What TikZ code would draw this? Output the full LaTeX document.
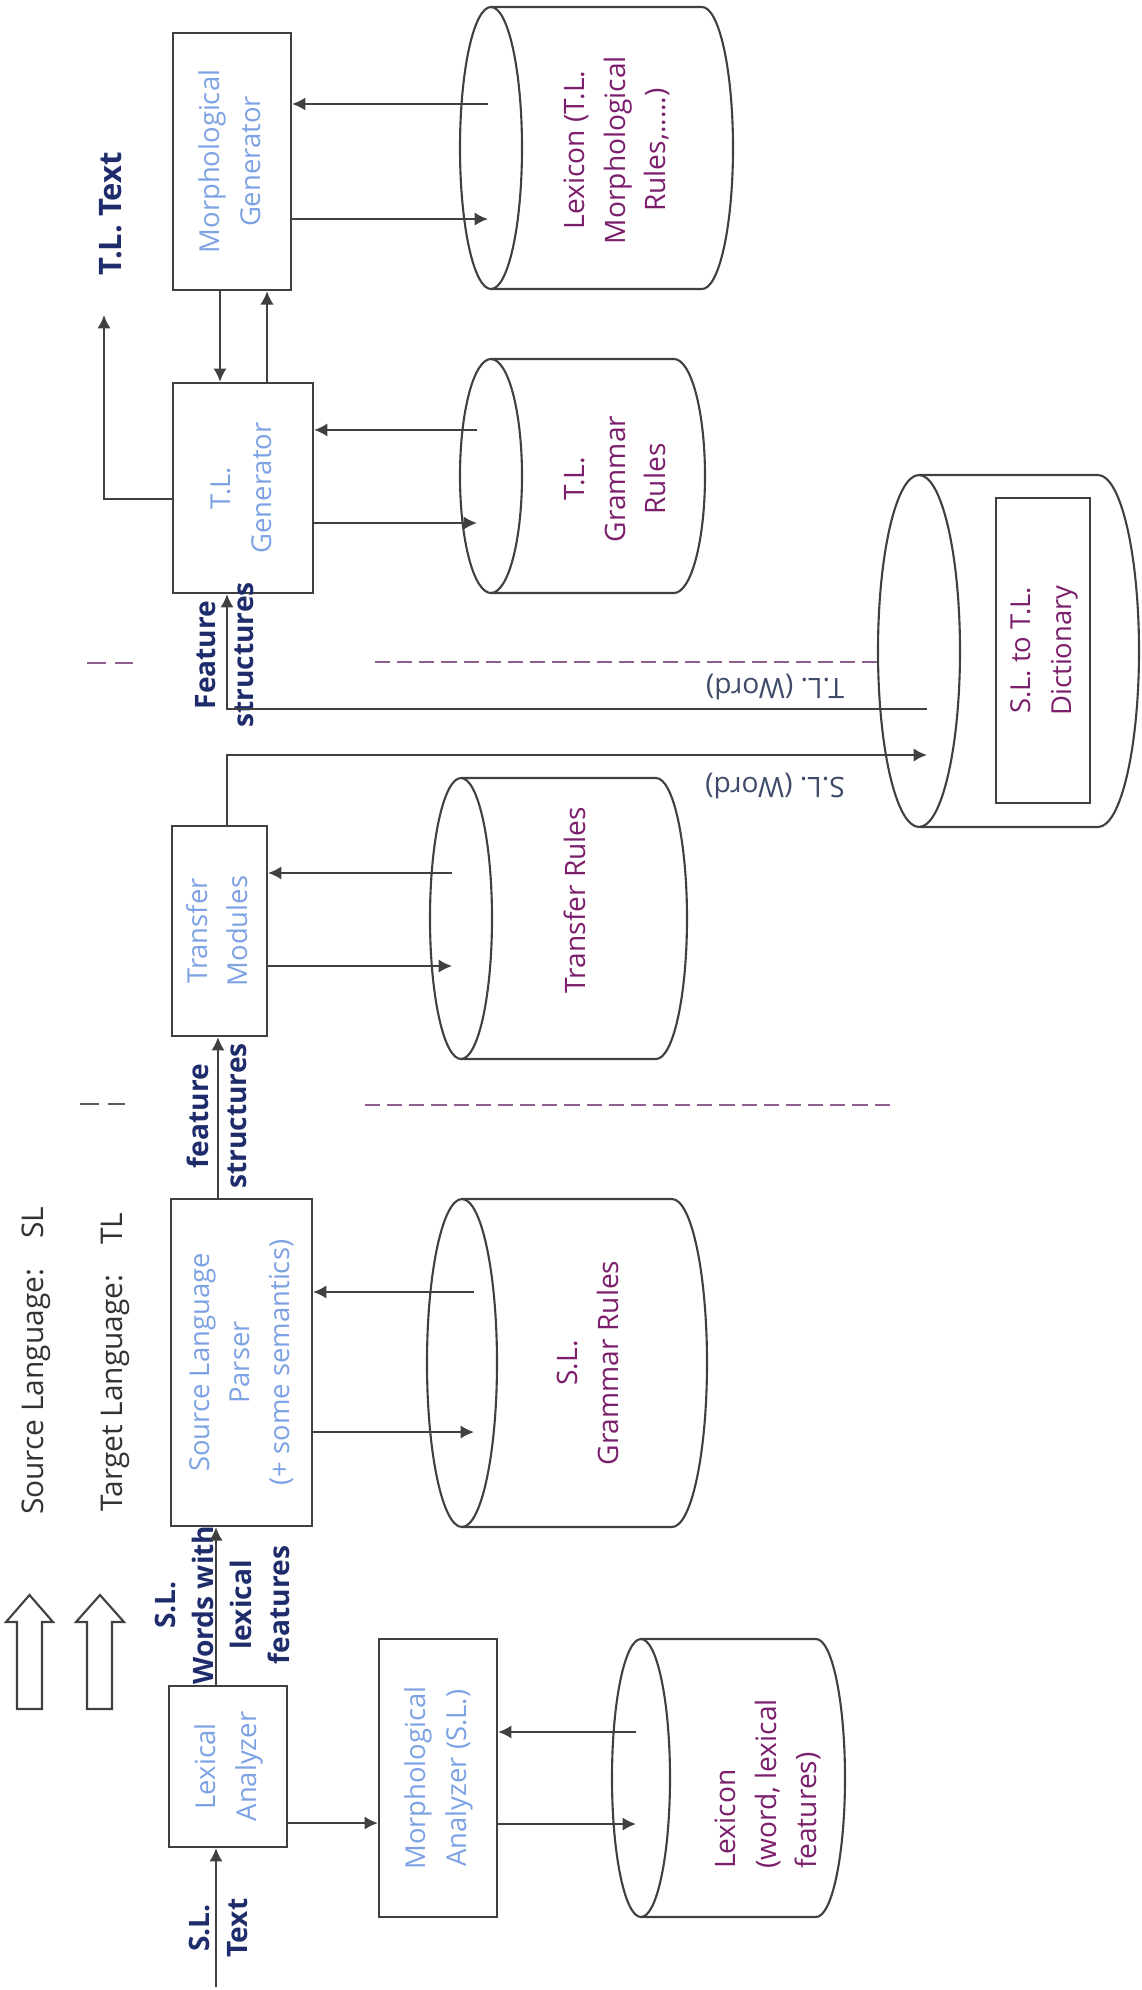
\documentclass[tikz,border=0pt]{standalone}
\usepackage{fontspec}
\setmainfont{Open Sans}
\usepackage{graphicx}
\usetikzlibrary{arrows.meta, positioning}

\definecolor{linegray}{HTML}{404040}
\definecolor{dashgray}{HTML}{5A5A5A}
\definecolor{boxblue}{HTML}{7DA2E3}
\definecolor{lblnavy}{HTML}{1F2C6B}
\definecolor{cylpurple}{HTML}{7B1F6D}
\definecolor{dashpurple}{HTML}{8E5E8E}
\definecolor{wordgray}{HTML}{3E4B68}
\definecolor{keygray}{HTML}{333333}

% text set upright in the page, read from bottom to top
\newcommand{\uptext}[2][c]{\rotatebox{90}{\begin{tabular}{@{}#1@{}}#2\end{tabular}}}
% store outline lying on its side: front face centre, x radius, y radius, length
\newcommand{\drawstore}[4]{%
    \draw[storeline] (#1) ellipse [x radius=#2, y radius=#3];
    \draw[storeline] (#1) ++(0,-#3) -- ++(#4,0) arc [start angle=-90, end angle=90, x radius=#2, y radius=#3] -- ++(-#4,0);
}

\begin{document}
\begin{tikzpicture}[
    x=0.01cm, y=-0.01cm,
    module/.style={rectangle, draw=linegray, line width=0.6pt, inner sep=0pt, text=boxblue, font=\fontsize{7.8}{11.4}\selectfont},
    storetext/.style={inner sep=0pt, text=cylpurple, font=\fontsize{8}{11.4}\selectfont},
    storeline/.style={draw=linegray, line width=0.6pt},
    flowlabel/.style={rotate=90, align=center, text=lblnavy, font=\bfseries\fontsize{8}{10.8}\selectfont},
    wordlabel/.style={rotate=180, text=wordgray, font=\fontsize{8}{10}\selectfont},
    keylabel/.style={rotate=90, text=keygray, font=\fontsize{8.5}{10}\selectfont},
    arrow/.style={-{Latex[length=3.8pt, width=3.8pt]}, draw=linegray, line width=0.6pt},
    hollow/.style={draw=linegray, line width=0.6pt},
    divider/.style={draw=dashpurple, line width=0.6pt, dash pattern=on 4.3pt off 2pt},
    shortdash/.style={line width=0.6pt, dash pattern=on 5.4pt off 2.6pt}
]
    \useasboundingbox (0,0) rectangle (1141,1990);

    % Stores
    \drawstore{641,1778}{29}{139}{175}
    \drawstore{462,1363}{35}{164}{210}
    \drawstore{461,918.5}{31}{140.5}{195}
    \drawstore{919,651}{41}{176}{179}
    \drawstore{491,476}{31}{117}{183}
    \drawstore{491,148}{31}{141}{211}

    % Analysis side
    \node[module, minimum width=1.18cm, minimum height=1.61cm] (lexan) at (228,1766.5) {\uptext{Lexical\\Analyzer}};
    \node[module, minimum width=1.18cm, minimum height=2.78cm] (mana) at (438,1778) {\uptext{Morphological\\Analyzer (S.L.)}};
    \node[module, minimum width=1.41cm, minimum height=3.27cm] (parser) at (241.5,1362.5) {\uptext{Source Language\\Parser\\(+ some semantics)}};
    \node[storetext] (lexstore) at (768,1784) {\uptext[l]{Lexicon\\(word, lexical\\features)}};
    \node[storetext] (slstore) at (590,1363) {\uptext{S.L.\\Grammar Rules}};

    % Transfer
    \node[module, minimum width=0.95cm, minimum height=2.10cm] (transfer) at (219.5,931) {\uptext{Transfer\\Modules}};
    \node[storetext] (trstore) at (577,900) {\uptext{Transfer Rules}};
    \node[module, text=cylpurple, minimum width=0.94cm, minimum height=3.05cm] (dictbox) at (1043,650.5) {\uptext{S.L. to T.L.\\Dictionary}};

    % Generation side
    \node[module, minimum width=1.40cm, minimum height=2.10cm] (tlgen) at (243,488) {\uptext{T.L.\\Generator}};
    \node[module, minimum width=1.18cm, minimum height=2.57cm] (mgen) at (232,161.5) {\uptext{Morphological\\Generator}};
    \node[storetext] (tlgstore) at (617,479) {\uptext{T.L.\\Grammar\\Rules}};
    \node[storetext] (tllexstore) at (617,150) {\uptext{Lexicon (T.L.\\Morphological\\Rules,.....)}};

    % Labels
    \node[keylabel] (srclang) at (36,1361) {Source Language:\quad SL};
    \node[keylabel] (tgtlang) at (115,1362) {Target Language:\quad TL};
    \node[flowlabel] (sltextlbl) at (218,1928) {S.L.\\Text};
    \node[flowlabel] (wordslbl) at (222,1605) {S.L.\\Words with\\lexical\\features};
    \node[flowlabel] (fslower) at (217,1116) {feature\\structures};
    \node[flowlabel] (fsupper) at (225,655) {Feature\\structures};
    \node[flowlabel, font=\bfseries\fontsize{8.8}{10}\selectfont] (tltextlbl) at (111,214) {T.L. Text};
    \node[wordlabel] (slwordlbl) at (775,786) {S.L. (Word)};
    \node[wordlabel] (tlwordlbl) at (775,687) {T.L. (Word)};

    % Legend arrows
    \draw[hollow] (17,1709) -- (17,1622) -- (6,1622) -- (29.5,1595) -- (53,1622) -- (42,1622) -- (42,1709) -- cycle;
    \draw[hollow] (87,1709) -- (87,1622) -- (76,1622) -- (100,1595) -- (124,1622) -- (112,1622) -- (112,1709) -- cycle;

    % Stage dividers
    \draw[shortdash, draw=dashpurple] (87,663) -- (133,663);
    \draw[divider] (375,662) -- (877,662);
    \draw[shortdash, draw=dashgray] (80,1104) -- (125,1104);
    \draw[divider] (365,1105) -- (895,1105);

    % Connection points
    \coordinate (sltext) at (216,1987);
    \coordinate (lexmid) at (636,1778);
    \coordinate (slmid) at (474,1363);
    \coordinate (trmid) at (452,918);
    \coordinate (tlgmid) at (477,476);
    \coordinate (tllexmid) at (488,148);
    \coordinate (dictslw) at (927,755);
    \coordinate (dicttlw) at (927,709);
    \coordinate (tltextend) at (104,315);

    \coordinate (lexout) at ([yshift=-0.565cm]lexan.east);
    \coordinate (manain) at ([yshift=0.46cm]mana.east);
    \coordinate (manaout) at ([yshift=-0.46cm]mana.east);
    \coordinate (parsein) at ([yshift=0.705cm]parser.east);
    \coordinate (parseout) at ([yshift=-0.695cm]parser.east);
    \coordinate (fsbase) at ([xshift=-0.235cm]parser.north);
    \coordinate (trin) at ([yshift=0.58cm]transfer.east);
    \coordinate (trout) at ([yshift=-0.35cm]transfer.east);
    \coordinate (trtop) at ([xshift=0.075cm]transfer.north);
    \coordinate (tlin) at ([xshift=-0.16cm]tlgen.south);
    \coordinate (tlgin) at ([yshift=0.58cm]tlgen.east);
    \coordinate (tlgout) at ([yshift=-0.35cm]tlgen.east);
    \coordinate (tltextout) at ([yshift=-0.11cm]tlgen.west);
    \coordinate (mgdown) at ([xshift=-0.12cm]mgen.south);
    \coordinate (mgup) at ([xshift=0.24cm]tlgen.north);
    \coordinate (mgin) at ([yshift=0.575cm]mgen.east);
    \coordinate (mgout) at ([yshift=-0.575cm]mgen.east);

    % Main path
    \draw[arrow] (sltext) -- (sltext |- lexan.south);
    \draw[arrow] (sltext |- lexan.north) -- (sltext |- parser.south);
    \draw[arrow] (lexout) -- (lexout -| mana.west);
    \draw[arrow] (fsbase) -- (fsbase |- transfer.south);
    \draw[arrow] (trtop) |- (dictslw);
    \draw[arrow] (dicttlw) -| (tlin);
    \draw[arrow] (mgdown) -- (mgdown |- tlgen.north);
    \draw[arrow] (mgup) -- (mgup |- mgen.south);
    \draw[arrow] (tltextout) -| (tltextend);

    % Look-ups
    \draw[arrow] (manain -| lexmid) -- (manain);
    \draw[arrow] (manaout) -- (manaout -| lexmid);
    \draw[arrow] (parsein -| slmid) -- (parsein);
    \draw[arrow] (parseout) -- (parseout -| slmid);
    \draw[arrow] (trin -| trmid) -- (trin);
    \draw[arrow] (trout) -- (trout -| trmid);
    \draw[arrow] (tlgin -| tlgmid) -- (tlgin);
    \draw[arrow] (tlgout) -- (tlgout -| tlgmid);
    \draw[arrow] (mgin -| tllexmid) -- (mgin);
    \draw[arrow] (mgout) -- (mgout -| tllexmid);
\end{tikzpicture}
\end{document}
